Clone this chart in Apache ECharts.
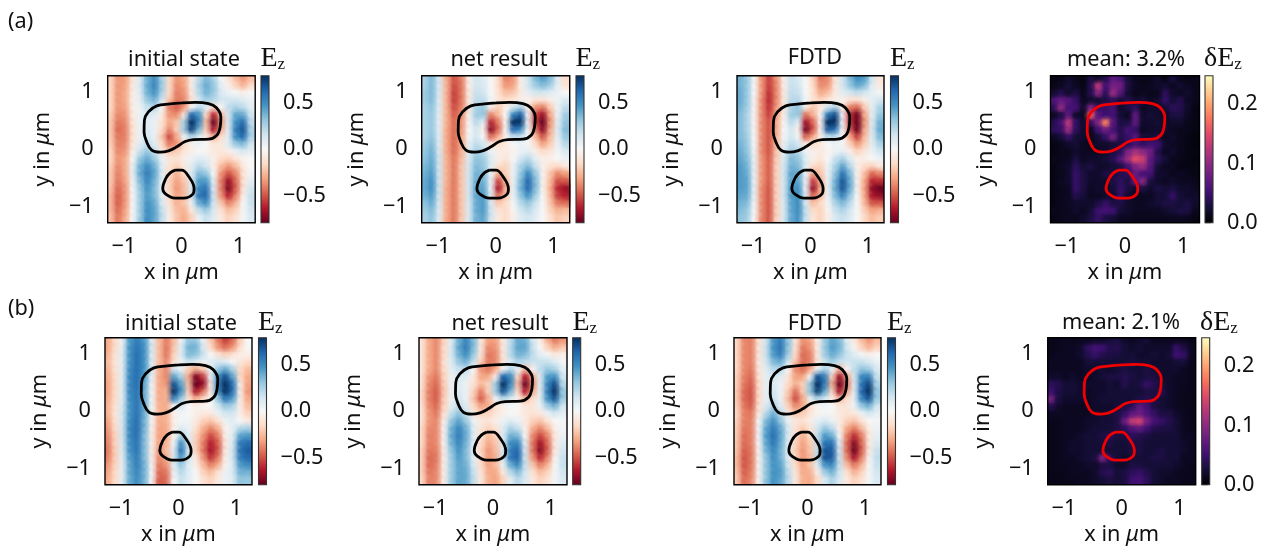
<!DOCTYPE html>
<html><head><meta charset="utf-8">
<style>html,body{margin:0;padding:0;background:#fff}#c{width:1267px;height:547px}</style>
<script src="https://cdn.jsdelivr.net/npm/echarts@6/dist/echarts.min.js"></script>
</head><body><div id="c"></div>
<script>
// Field values, rows top (y=+1.28) to bottom. Ez in 0.01 units, dEz in 0.001 units.
const field_a_initial=[
[-15,-35,-33,-10,10,38,50,25,-15,-35,-30,-5,20,35,25,0,-10,-25,-35,-25],
[-15,-35,-32,-8,12,40,52,28,-15,-38,-32,-5,25,40,30,8,-5,-18,-28,-15],
[-15,-35,-30,-6,10,38,48,25,-15,-40,-35,-8,22,38,30,12,5,0,-5,0],
[-15,-35,-30,-5,8,30,38,15,-22,-42,-38,-10,15,28,22,15,15,15,10,5],
[-15,-35,-32,-6,5,18,22,0,-40,-48,-35,0,20,10,-15,0,20,25,20,8],
[-18,-38,-35,-8,5,12,10,-8,-35,-38,-10,60,48,-15,-60,-25,15,42,40,15],
[-20,-42,-38,-10,5,10,5,-12,-30,-22,25,92,52,-25,-80,-35,12,48,60,20],
[-20,-45,-40,-12,5,12,5,-15,-38,-18,28,75,38,-20,-66,-30,10,55,68,25],
[-20,-42,-40,-12,5,15,5,-22,-52,-30,5,25,12,-8,-28,-15,10,50,62,25],
[-18,-40,-38,-10,10,20,10,-15,-42,-35,-15,-5,5,0,-10,-8,10,30,35,15],
[-15,-38,-35,-5,18,30,18,-8,-22,-20,-10,-5,0,-2,-8,-10,-5,5,12,8],
[-15,-35,-30,0,30,40,28,5,-10,-12,-5,5,10,8,-5,-15,-18,-10,-3,0],
[-18,-38,-30,5,38,50,38,10,-12,-18,-8,10,22,15,-5,-25,-35,-25,-8,0],
[-20,-40,-30,5,40,55,42,10,-15,-28,-15,12,35,30,0,-35,-50,-38,-12,3],
[-20,-42,-32,3,35,52,38,8,-18,-32,-22,10,45,45,8,-40,-68,-45,-12,8],
[-22,-45,-35,0,30,48,35,5,-18,-35,-25,12,52,58,10,-40,-74,-48,-10,15],
[-25,-48,-35,0,28,45,35,8,-15,-32,-25,15,58,62,15,-35,-62,-40,-5,18],
[-25,-48,-35,0,28,48,40,12,-12,-28,-22,5,40,50,15,-22,-40,-28,0,18],
[-25,-45,-32,0,28,50,42,18,-8,-25,-28,-8,20,30,12,-12,-25,-18,2,15],
[-22,-42,-30,0,28,50,42,20,-5,-22,-30,-18,5,18,10,-8,-18,-12,2,12]];
const field_a_net=[
[25,35,12,-30,-50,-40,-5,15,10,0,-15,-40,-35,-5,15,35,45,35,10,-15],
[25,35,12,-28,-52,-42,-5,15,12,0,-15,-35,-32,-5,15,28,35,28,8,-12],
[28,35,12,-28,-55,-42,-8,18,15,0,-12,-25,-22,-8,8,15,15,10,5,0],
[28,35,10,-28,-55,-42,-8,20,20,2,-10,-15,-10,-5,-5,-10,-10,-5,5,12],
[25,32,10,-28,-52,-40,-8,25,30,-5,-20,-5,15,25,-5,-35,-40,-20,5,20],
[25,30,8,-28,-48,-38,-5,28,30,-38,-25,0,50,65,5,-52,-68,-30,5,28],
[25,30,8,-28,-45,-35,-2,22,10,-60,-40,0,85,78,5,-55,-82,-35,8,32],
[25,30,8,-30,-45,-35,0,15,-5,-72,-45,0,62,52,3,-42,-72,-30,10,35],
[25,32,10,-30,-45,-32,2,15,0,-45,-28,-3,20,18,0,-25,-50,-25,8,30],
[28,35,10,-30,-45,-30,8,20,15,-8,-15,-8,0,5,2,-15,-32,-20,5,22],
[30,38,12,-30,-45,-28,10,28,20,5,-5,-8,-3,5,8,-5,-15,-10,3,12],
[32,40,15,-28,-42,-25,12,32,28,10,-5,-10,0,15,22,8,-5,-5,0,5],
[35,42,15,-28,-42,-22,15,35,30,10,-12,-18,5,25,35,18,-5,-12,-15,-8],
[38,45,15,-28,-42,-22,15,38,35,5,-28,-18,5,30,52,30,-3,-22,-38,-32],
[40,48,15,-28,-42,-22,15,40,38,5,-52,-25,5,35,62,35,-3,-25,-50,-48],
[40,50,15,-30,-42,-22,15,42,42,3,-66,-28,5,38,62,35,-3,-28,-60,-68],
[38,45,15,-30,-42,-22,15,42,45,8,-46,-22,5,32,48,28,0,-25,-55,-62],
[32,40,12,-30,-42,-22,12,40,45,12,-22,-15,2,22,32,18,0,-22,-42,-45],
[28,35,10,-30,-42,-22,12,40,45,15,-12,-15,-2,15,22,12,0,-18,-28,-25],
[25,32,10,-30,-42,-22,12,38,42,15,-8,-15,-5,10,15,10,0,-12,-22,-18]];
const field_a_fdtd=[
[38,30,0,-35,-55,-35,-5,18,12,0,-18,-42,-38,-10,15,35,50,45,15,-10],
[38,30,0,-35,-55,-38,-5,18,15,0,-15,-38,-35,-8,15,30,42,35,10,-8],
[40,30,0,-35,-58,-38,-8,20,18,0,-12,-30,-25,-8,10,15,20,15,8,2],
[40,30,-2,-38,-60,-38,-8,22,22,2,-12,-18,-10,-5,-5,-12,-12,-5,8,15],
[38,28,-2,-38,-58,-35,-8,25,32,-5,-22,-8,15,25,-8,-40,-45,-20,8,25],
[35,25,-2,-38,-55,-32,-5,28,30,-42,-28,-2,55,70,3,-58,-78,-30,8,30],
[35,25,-2,-38,-50,-30,-2,22,10,-66,-45,-2,92,88,3,-58,-92,-35,10,38],
[35,25,-2,-38,-50,-30,0,15,-5,-78,-50,-2,68,60,2,-48,-80,-30,12,40],
[35,28,0,-38,-50,-28,2,15,2,-48,-30,-5,22,20,0,-30,-55,-25,10,35],
[38,30,0,-38,-50,-25,8,20,15,-8,-15,-8,0,5,2,-18,-35,-20,8,25],
[40,32,2,-38,-50,-22,10,28,22,5,-5,-8,-3,5,8,-5,-18,-10,5,15],
[42,35,5,-35,-48,-20,12,35,30,10,-5,-10,0,18,25,10,-5,-5,0,5],
[45,38,5,-35,-48,-18,15,38,35,10,-14,-18,5,25,42,22,-5,-15,-18,-8],
[45,40,5,-35,-48,-18,15,42,40,5,-32,-22,5,32,58,35,-3,-24,-45,-38],
[45,42,5,-35,-48,-18,15,42,42,5,-55,-28,5,38,68,40,-3,-30,-60,-58],
[45,42,5,-38,-50,-18,15,45,48,3,-70,-30,5,40,68,40,-3,-32,-70,-78],
[42,40,5,-38,-50,-18,15,45,50,8,-48,-25,5,35,54,32,0,-30,-65,-70],
[38,35,2,-38,-50,-18,12,42,50,12,-25,-16,2,25,36,22,0,-26,-50,-50],
[35,30,0,-38,-50,-18,12,42,50,18,-15,-18,-2,18,25,15,0,-20,-32,-28],
[32,28,0,-38,-50,-18,12,40,48,18,-10,-18,-5,12,18,12,0,-15,-25,-20]];
const field_a_error=[
[8,10,20,12,8,30,20,35,70,60,25,12,10,12,18,8,30,12,8,12],
[10,15,25,15,8,35,125,55,85,80,30,15,12,15,20,22,15,22,15,12],
[22,35,20,30,12,35,95,40,105,65,22,12,15,12,12,40,20,15,22,12],
[60,75,65,45,15,22,22,30,40,25,35,20,25,15,22,45,25,35,15,12],
[40,100,55,55,20,90,45,45,55,20,30,40,15,20,20,25,40,35,20,8],
[15,30,70,20,15,160,65,50,55,25,15,70,20,25,20,15,30,30,15,8],
[35,55,125,45,20,45,90,180,65,30,30,70,20,20,25,15,20,20,12,8],
[40,45,105,40,20,15,55,80,55,35,55,45,15,20,20,20,15,12,12,8],
[15,25,45,25,20,12,25,45,85,35,45,65,25,25,30,15,20,12,8,5],
[8,12,20,25,15,12,20,20,25,30,40,55,45,55,50,20,15,12,8,5],
[8,12,12,20,15,15,15,20,30,40,90,115,100,80,35,15,20,12,8,8],
[12,12,15,30,15,20,20,25,35,65,105,150,135,70,40,25,12,12,8,5],
[8,15,20,40,25,30,20,20,25,30,55,90,105,65,25,15,15,8,8,8],
[8,12,20,45,30,20,20,30,30,35,40,75,55,55,20,20,12,15,12,8],
[8,15,20,45,30,20,20,20,30,40,30,70,95,30,20,15,20,15,15,12],
[8,12,15,45,30,15,20,20,25,45,30,20,30,20,30,25,30,20,20,15],
[8,12,15,35,25,15,15,20,20,45,20,15,15,15,25,25,45,25,20,20],
[8,12,15,20,20,20,30,45,30,30,20,15,15,20,25,30,30,25,30,20],
[12,12,15,20,15,25,50,55,50,25,20,15,15,15,15,20,25,30,30,12],
[8,12,15,12,20,30,45,30,25,15,15,12,12,12,12,12,15,15,12,8]];
const field_b_initial=[
[-30,-15,5,45,55,45,10,-25,-40,-25,5,30,30,5,-20,-40,-55,-45,-20,0],
[-30,-15,8,48,58,48,12,-25,-42,-22,10,38,38,12,-15,-35,-45,-35,-15,0],
[-28,-12,10,48,60,48,10,-25,-42,-18,10,35,32,18,0,-10,-18,-12,-5,-5],
[-25,-10,10,48,60,48,10,-25,-38,-12,5,18,10,5,10,15,10,0,-10,-15],
[-28,-12,10,50,60,48,8,-28,-38,15,5,-20,-30,-20,5,30,40,25,-15,-25],
[-30,-15,10,52,60,45,5,-30,-38,42,25,-30,-75,-55,5,50,70,42,-15,-30],
[-32,-15,10,52,60,42,3,-30,-35,68,42,-25,-92,-70,-10,55,88,60,-5,-32],
[-32,-15,10,52,58,40,2,-30,-28,82,48,-20,-66,-44,-8,50,82,60,-5,-35],
[-30,-15,10,50,58,40,3,-30,-28,55,30,-12,-30,-15,-3,30,58,45,-5,-30],
[-28,-12,12,48,58,40,3,-28,-30,3,15,0,-5,-2,0,15,30,25,-5,-25],
[-28,-10,15,48,58,40,0,-28,-28,-5,3,0,-5,-8,-8,5,15,15,-5,-18],
[-32,-12,15,50,60,38,-2,-30,-28,-5,2,3,-8,-18,-22,-12,5,10,0,-8],
[-35,-15,15,52,60,38,-3,-32,-30,-5,10,5,-12,-28,-38,-28,-3,8,22,25],
[-38,-18,15,52,60,35,-5,-32,-30,-3,25,10,-18,-35,-52,-40,-5,10,42,45],
[-40,-18,12,50,58,35,-5,-32,-28,3,48,12,-20,-40,-62,-48,-8,12,55,60],
[-42,-20,12,48,58,35,-5,-35,-25,10,60,15,-18,-42,-66,-50,-8,15,58,66],
[-40,-20,10,45,55,35,-5,-38,-28,12,48,12,-8,-35,-58,-42,-5,15,55,62],
[-35,-18,8,42,55,38,-2,-42,-35,10,30,10,-5,-25,-40,-30,-3,12,45,50],
[-32,-15,8,42,52,38,0,-45,-42,5,22,10,0,-18,-25,-12,5,12,38,38],
[-30,-15,8,40,50,38,0,-48,-45,0,18,10,0,-12,-18,-8,5,10,32,30]];
const field_b_net=[
[-10,-30,-38,-18,10,38,52,35,-8,-32,-32,-8,20,40,38,15,-5,-28,-42,-35],
[-10,-30,-38,-15,12,42,55,35,-8,-38,-35,-8,22,42,42,18,0,-18,-30,-22],
[-10,-30,-38,-15,12,38,50,30,-10,-42,-38,-10,22,38,35,20,8,2,-8,-5],
[-10,-30,-38,-12,10,30,38,18,-18,-42,-38,-10,12,25,20,18,18,18,10,2],
[-10,-30,-38,-15,8,18,20,0,-35,-42,-30,2,22,8,-25,-2,20,30,25,8],
[-12,-35,-42,-18,5,12,10,-8,-30,-30,-5,62,52,-15,-64,-28,12,45,48,15],
[-12,-38,-45,-20,5,10,5,-12,-25,-18,28,92,52,-25,-80,-38,10,52,70,22],
[-15,-40,-48,-22,5,12,5,-18,-40,-18,28,70,38,-15,-64,-30,8,55,80,30],
[-15,-40,-48,-20,5,15,5,-22,-48,-28,5,22,12,-5,-25,-15,8,48,68,28],
[-12,-38,-45,-18,8,20,10,-15,-32,-28,-12,-5,2,0,-10,-10,5,28,38,15],
[-10,-35,-42,-12,18,32,18,-8,-18,-18,-10,-5,0,-3,-8,-12,-8,5,15,8],
[-12,-35,-38,-5,30,42,28,5,-8,-10,-5,5,10,5,-8,-18,-22,-10,0,2],
[-15,-38,-38,-2,38,52,38,10,-10,-18,-10,10,25,18,-5,-28,-38,-25,-5,3],
[-15,-40,-38,-2,40,55,40,10,-12,-25,-18,12,38,35,0,-38,-52,-38,-8,5],
[-15,-40,-38,-2,38,52,38,8,-15,-30,-22,10,50,52,8,-42,-66,-45,-8,10],
[-18,-42,-40,-5,32,48,35,5,-18,-35,-25,12,55,62,12,-42,-72,-48,-8,15],
[-18,-45,-42,-5,28,45,35,8,-15,-35,-28,15,58,64,15,-35,-60,-40,-3,18],
[-18,-45,-40,-5,28,42,38,12,-15,-32,-25,5,40,52,18,-22,-40,-28,0,18],
[-18,-42,-38,-5,28,42,40,18,-10,-30,-30,-8,22,35,15,-12,-25,-18,2,15],
[-15,-40,-38,-5,28,42,40,20,-8,-28,-32,-18,8,22,12,-8,-18,-12,2,12]];
const field_b_fdtd=[
[-15,-38,-40,-12,15,45,55,32,-10,-35,-32,-5,28,42,35,10,-8,-25,-35,-25],
[-15,-38,-40,-10,18,48,58,32,-12,-42,-35,-5,30,45,38,15,-2,-18,-28,-18],
[-15,-38,-40,-10,18,45,55,28,-15,-45,-40,-8,28,40,32,18,10,2,-5,0],
[-15,-38,-40,-8,15,35,40,15,-22,-45,-40,-8,18,28,18,15,18,18,12,5],
[-15,-38,-42,-10,10,22,22,0,-36,-45,-30,5,25,8,-28,-2,20,32,28,12],
[-18,-40,-45,-12,8,15,10,-10,-32,-32,0,68,55,-18,-68,-30,15,52,54,18],
[-18,-42,-48,-15,8,12,5,-15,-28,-18,32,98,55,-30,-88,-42,12,58,72,24],
[-20,-45,-50,-15,8,15,5,-20,-44,-20,32,75,42,-18,-68,-32,10,62,80,30],
[-20,-45,-50,-15,8,18,5,-25,-52,-30,8,25,14,-5,-28,-15,8,52,68,28],
[-18,-42,-48,-12,12,25,10,-18,-38,-30,-12,-3,3,0,-10,-10,5,30,38,15],
[-15,-40,-42,-8,22,38,20,-8,-22,-20,-10,-3,2,-3,-8,-12,-8,5,15,8],
[-18,-40,-40,0,35,48,30,5,-10,-12,-5,8,12,5,-8,-18,-22,-10,0,2],
[-20,-42,-40,2,42,55,40,12,-12,-20,-10,15,30,20,-5,-30,-40,-25,-5,5],
[-20,-45,-40,2,45,60,42,12,-15,-28,-15,20,45,38,0,-40,-58,-40,-8,8],
[-22,-45,-40,0,42,58,40,10,-18,-32,-20,20,58,58,8,-45,-72,-45,-8,12],
[-22,-48,-42,-2,38,52,38,8,-20,-35,-22,20,68,66,12,-45,-78,-48,-8,18],
[-25,-50,-42,-2,32,50,38,10,-18,-35,-25,22,70,66,15,-38,-66,-40,-3,20],
[-25,-50,-42,-2,32,48,42,15,-15,-32,-22,10,48,52,18,-25,-42,-28,0,18],
[-22,-48,-40,-2,32,48,45,20,-10,-30,-28,-5,28,38,15,-12,-28,-18,2,15],
[-20,-45,-38,-2,32,48,42,22,-8,-28,-30,-15,12,25,12,-8,-18,-12,2,12]];
const field_b_error=[
[10,12,15,12,15,15,20,20,25,30,20,15,20,25,15,15,15,15,15,10],
[10,12,15,15,20,40,55,50,35,35,25,20,25,20,20,20,20,45,30,15],
[12,15,15,15,20,35,45,35,30,30,25,25,20,20,25,20,25,50,45,15],
[15,15,15,15,15,25,25,25,25,25,25,30,25,25,20,20,20,25,25,12],
[15,15,15,15,15,20,20,25,20,25,30,25,25,30,25,20,20,20,15,10],
[20,20,15,20,15,15,20,25,30,30,35,30,25,30,30,20,20,15,15,10],
[40,35,25,25,20,20,20,20,25,20,35,25,30,45,35,25,20,15,15,10],
[50,30,25,25,20,15,20,20,25,25,25,25,25,30,30,35,20,15,12,10],
[85,30,20,20,20,15,20,25,25,25,25,25,30,35,30,25,20,15,12,10],
[35,20,15,15,15,15,20,20,20,25,30,40,70,55,30,25,20,15,12,10],
[15,15,15,15,15,15,20,20,25,30,45,70,80,60,45,30,30,20,15,10],
[12,12,15,15,15,20,20,25,25,30,75,130,140,85,55,45,35,25,15,12],
[10,12,15,15,15,20,25,25,25,30,40,60,70,50,35,30,30,25,15,12],
[10,12,15,15,20,25,25,30,35,30,30,40,35,30,25,25,25,25,15,15],
[10,12,15,20,20,25,25,25,30,25,25,30,30,25,25,25,25,25,20,15],
[10,12,15,20,20,25,25,25,25,25,25,30,30,25,25,30,25,25,20,15],
[10,12,15,15,20,25,30,90,40,25,20,25,25,25,30,30,25,25,15,15],
[10,12,12,15,15,20,20,30,30,20,20,30,30,25,25,25,25,20,15,12],
[10,10,12,15,15,15,20,35,40,25,30,40,45,35,25,20,20,15,12,12],
[10,10,12,12,15,15,20,25,30,25,30,50,55,40,25,20,15,15,12,10]];
// Outlines of the two scatterers (x, y in um)
const outlineLarge=[[.006,.806],[.238,.817],[.47,.794],[.603,.725],[.684,.562],[.672,.388],[.614,.243],[.47,.174],[.209,.168],[.064,.133],[-.081,.041],[-.226,-.029],[-.371,-.052],[-.516,-.017],[-.603,.128],[-.649,.301],[-.643,.504],[-.574,.649],[-.429,.754],[-.197,.788],[.006,.806]];
const outlineSmall=[[-.11,-.365],[.006,-.365],[.122,-.47],[.22,-.684],[.197,-.783],[.035,-.852],[-.11,-.852],[-.272,-.783],[-.325,-.684],[-.272,-.51],[-.197,-.412],[-.11,-.365]];
const panelTitles=['initial state','net result','FDTD','mean: 3.2%','initial state','net result','FDTD','mean: 2.1%'];
const spatialTicks=[-1,0,1];
const ezTicks=[-0.5,0,0.5];
const errTicks=[0,0.1,0.2];
const RdBu=['#67001f','#b2182b','#d6604d','#f4a582','#fddbc7','#f7f7f7','#d1e5f0','#92c5de','#4393c3','#2166ac','#053061'];
const magma=['#000004','#140e36','#3b0f70','#641a80','#8c2981','#b5367a','#de4968','#f7705c','#fe9f6d','#fecf92','#fcfdbf'];

const FONT='"Noto Sans"', FS=21.7, EXT=1.28, N=20;
const layout=[
 {f:field_a_initial,x:107.7,y:75.7,w:147.5,cb:261,t:[184,60],l:[260.5,59],err:0},
 {f:field_a_net,x:421.7,y:75.7,w:148,cb:576,t:[499,60],l:[575.5,59],err:0},
 {f:field_a_fdtd,x:737,y:75.7,w:147,cb:890.5,t:[815,58],l:[890,59],err:0},
 {f:field_a_error,x:1050.5,y:75.7,w:149,cb:1205,t:[1126,60],l:[1204,59],err:1},
 {f:field_b_initial,x:105,y:337.7,w:147,cb:258.5,t:[181,324],l:[258,323],err:0},
 {f:field_b_net,x:419,y:337.7,w:148,cb:572.7,t:[500,324],l:[572.5,323],err:0},
 {f:field_b_fdtd,x:734,y:337.7,w:147,cb:887.5,t:[815,324],l:[887,323],err:0},
 {f:field_b_error,x:1047.7,y:337.7,w:148,cb:1201.7,t:[1121,323],l:[1200,323],err:1}
];
const H=147;
function hex(c){return [1,3,5].map(i=>parseInt(c.substr(i,2),16));}
function cmapColor(stops,t){
  t=Math.max(0,Math.min(1,t))*(stops.length-1);
  const i=Math.min(stops.length-2,Math.floor(t)),a=hex(stops[i]),b=hex(stops[i+1]),u=t-i;
  return a.map((v,k)=>Math.round(v+(b[k]-v)*u));
}
const rgba=(c,a)=>`rgba(${c[0]},${c[1]},${c[2]},${a})`;

const grid=[],xAxis=[],yAxis=[],series=[],graphic=[];
const txt={fontFamily:FONT,fontSize:FS,color:'#111'};
const nameRich={t:{fontFamily:FONT,fontSize:FS,color:'#111'},i:{fontFamily:FONT,fontSize:FS,fontStyle:'italic',color:'#111'}};
const tickFmt=(d)=>(v)=>(d?v.toFixed(d):String(v)).replace('-','\u2212');

layout.forEach((p,k)=>{
  const gi=grid.length;
  const stops=p.err?magma:RdBu, vmin=p.err?0:-0.79, vmax=p.err?0.248:0.79, scale=p.err?0.001:0.01;
  grid.push({left:p.x,top:p.y,width:p.w,height:H,show:true,z:30,borderColor:'#000',borderWidth:1.4,backgroundColor:'transparent'});
  xAxis.push({gridIndex:gi,type:'value',min:-EXT,max:EXT,splitLine:{show:false},axisLine:{show:false},
    axisTick:{show:true,length:6,customValues:spatialTicks,lineStyle:{color:'#000',width:1.3}},
    axisLabel:{...txt,margin:13,customValues:spatialTicks,formatter:tickFmt(0)},
    name:'{t|x in }{i|\u03bc}{t|m}',nameLocation:'middle',nameGap:39,nameTextStyle:{rich:nameRich}});
  yAxis.push({gridIndex:gi,type:'value',min:-EXT,max:EXT,splitLine:{show:false},axisLine:{show:false},
    axisTick:{show:true,length:6,customValues:spatialTicks,lineStyle:{color:'#000',width:1.3}},
    axisLabel:{...txt,margin:14,padding:[4,0,0,0],customValues:spatialTicks,formatter:tickFmt(0)},
    name:'{t|y in }{i|\u03bc}{t|m}',nameLocation:'middle',nameGap:54,nameTextStyle:{rich:nameRich}});
  const cells=[];
  const step=2*EXT/N;
  p.f.forEach((row,r)=>row.forEach((v,c)=>cells.push([-EXT+(c+.5)*step,EXT-(r+.5)*step,v*scale])));
  series.push({type:'custom',xAxisIndex:gi,yAxisIndex:gi,z:1,clip:true,silent:true,animation:false,progressive:0,data:cells,encode:{x:0,y:1},
    renderItem:(ps,api)=>{
      const o=api.coord([api.value(0),api.value(1)]),s=api.size([step,step]);
      const c=cmapColor(stops,(api.value(2)-vmin)/(vmax-vmin));
      return {type:'rect',shape:{x:o[0]-s[0]/2-.5,y:o[1]-s[1]/2-.5,width:s[0]+1,height:s[1]+1},style:{fill:rgba(c,1)}};
    }});
  const R=p.err?1.15:1.3;
  series.push({type:'custom',xAxisIndex:gi,yAxisIndex:gi,z:2,clip:true,silent:true,animation:false,progressive:0,data:cells,encode:{x:0,y:1},
    renderItem:(ps,api)=>{
      const o=api.coord([api.value(0),api.value(1)]),s=api.size([step,step]);
      const c=cmapColor(stops,(api.value(2)-vmin)/(vmax-vmin));
      return {type:'rect',shape:{x:o[0]-s[0]*R,y:o[1]-s[1]*R,width:s[0]*2*R,height:s[1]*2*R},
        style:{fill:new echarts.graphic.RadialGradient(.5,.5,.5,[{offset:0,color:rgba(c,1)},{offset:.2,color:rgba(c,.9)},{offset:.5,color:rgba(c,.45)},{offset:1,color:rgba(c,0)}])}};
    }});
  [outlineLarge,outlineSmall].forEach(o=>series.push({type:'line',xAxisIndex:gi,yAxisIndex:gi,z:5,data:o,smooth:.4,symbol:'none',silent:true,animation:false,
    lineStyle:{color:p.err?'#f00000':'#000',width:2.8}}));

  // colour bar
  const ci=grid.length;
  grid.push({left:p.cb,top:p.y,width:8,height:H,show:true,z:30,borderColor:'#333',borderWidth:1.1,backgroundColor:'transparent'});
  xAxis.push({gridIndex:ci,type:'value',min:0,max:1,show:false});
  const ticks=p.err?errTicks:ezTicks;
  yAxis.push({gridIndex:ci,type:'value',position:'right',min:vmin,max:vmax,splitLine:{show:false},axisLine:{show:false},
    axisTick:{show:true,length:6,customValues:ticks,lineStyle:{color:'#000',width:1.3}},
    axisLabel:{...txt,margin:14,padding:[4,0,0,0],customValues:ticks,formatter:tickFmt(1)}});
  series.push({type:'custom',xAxisIndex:ci,yAxisIndex:ci,z:1,silent:true,animation:false,data:[[0,1,vmin,vmax]],encode:{x:[0,1],y:[2,3]},
    renderItem:(ps,api)=>{
      const a=api.coord([api.value(0),api.value(3)]),b=api.coord([api.value(1),api.value(2)]);
      const cs=stops.map((s,i)=>({offset:1-i/(stops.length-1),color:s})).reverse();
      return {type:'rect',shape:{x:a[0],y:a[1],width:b[0]-a[0],height:b[1]-a[1]},
        style:{fill:new echarts.graphic.LinearGradient(0,0,0,1,cs)}};
    }});

  graphic.push({type:'text',x:p.t[0],y:p.t[1],style:{text:panelTitles[k],fontFamily:FONT,fontSize:FS,fill:'#111',align:'center',verticalAlign:'middle'}});
  graphic.push({type:'text',x:p.l[0],y:p.l[1],style:{text:(p.err?'{e|\u03b4E}':'{e|E}')+'{z|z}',align:'left',verticalAlign:'middle',
    rich:{e:{fontFamily:'"Liberation Serif"',fontSize:28,fill:'#111',verticalAlign:'bottom'},z:{fontFamily:'"Liberation Serif"',fontSize:17,fill:'#111',verticalAlign:'bottom',padding:[7,0,0,0]}}}});
});
graphic.push({type:'text',x:8,y:22,style:{text:'(a)',fontFamily:FONT,fontSize:FS,fill:'#111',verticalAlign:'middle'}});
graphic.push({type:'text',x:8,y:309,style:{text:'(b)',fontFamily:FONT,fontSize:FS,fill:'#111',verticalAlign:'middle'}});

const chart=echarts.init(document.getElementById('c'),null,{renderer:'canvas'});
chart.setOption({animation:false,backgroundColor:'#fff',grid,xAxis,yAxis,series,graphic:{elements:graphic}});
</script></body></html>
